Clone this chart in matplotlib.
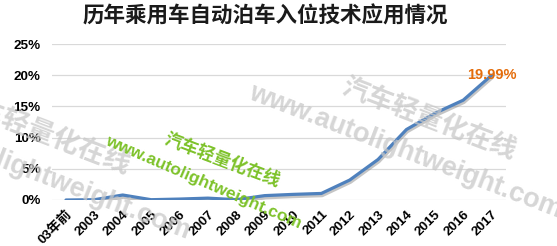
import matplotlib
matplotlib.use("Agg")
import matplotlib.pyplot as plt
import matplotlib.patheffects as pe
import matplotlib.transforms as mtransforms

plt.rcParams['font.family'] = ['Liberation Sans', 'Noto Sans CJK SC', 'DejaVu Sans']

categories = ['03年前', '2003', '2004', '2005', '2006', '2007', '2008', '2009',
              '2010', '2011', '2012', '2013', '2014', '2015', '2016', '2017']
values = [0.0, 0.05, 0.8, 0.05, 0.15, 0.3, 0.05, 0.7,
          0.9, 1.05, 3.2, 6.5, 11.3, 13.9, 16.0, 19.99]
yticks = [0, 5, 10, 15, 20, 25]
ytick_labels = ['0%', '5%', '10%', '15%', '20%', '25%']
title = '历年乘用车自动泊车入位技术应用情况'
end_label = '19.99%'
wm_url = 'www.autolightweight.com'
wm_cn = '汽车轻量化在线'

W, H = 557, 246
fig = plt.figure(figsize=(W / 100, H / 100), dpi=100)
ax = fig.add_axes([0.093, 0.187, 0.815, 0.634])

x = list(range(len(categories)))
ax.plot(x, values, color='#4f81bd', lw=2.3, solid_capstyle='round', zorder=3,
        path_effects=[pe.SimpleLineShadow(offset=(0.6, -1.6), shadow_color='#808080', alpha=0.45),
                      pe.Normal()])
ax.set_xlim(-0.5, len(categories) - 0.5)
ax.set_ylim(0, 25)
ax.set_yticks(yticks)
ax.set_yticklabels(ytick_labels)
ax.set_xticks(x)
ax.set_xticklabels(categories, rotation=45, ha='right', va='top', rotation_mode='anchor')
shift = mtransforms.ScaledTranslation(3 / 100, 0, fig.dpi_scale_trans)
for lab in ax.get_xticklabels():
    lab.set_transform(lab.get_transform() + shift)
for lab in ax.get_xticklabels() + ax.get_yticklabels():
    lab.set_fontweight('bold')
    lab.set_fontsize(9.7)
    lab.set_family(['Liberation Sans', 'Noto Sans CJK SC'])
ax.tick_params(length=0)
ax.tick_params(axis='x', pad=6)
ax.tick_params(axis='y', pad=8)
ax.grid(axis='y', color='#d9d9d9', lw=0.9)
ax.set_axisbelow(True)
for s in ax.spines.values():
    s.set_visible(False)

ax.text(x[-1], values[-1], end_label, color='#e46c0a', fontweight='bold', fontsize=10.5,
        ha='center', va='center', zorder=5)

fig.text(0.476, 0.935, title, ha='center', va='center', fontsize=15.5, fontweight='bold',
         family=['Noto Sans CJK SC'], color='#1a1a1a')

# grey watermarks
grey = dict(color='#c8c8c8', alpha=0.75, fontweight='bold', rotation=-21,
            rotation_mode='anchor', ha='left', va='center', zorder=1,
            family=['Liberation Sans', 'Noto Sans CJK SC'])
fig.text(250 / W, 1 - 92 / H, wm_url, fontsize=19.5, **grey)
fig.text(343 / W, 1 - 86 / H, wm_cn, fontsize=19, **grey)
fig.text(-122 / W, 1 - 113 / H, wm_url, fontsize=19.5, **grey)
fig.text(-48 / W, 1 - 100 / H, wm_cn, fontsize=19.5, **grey)

# green watermarks
green = dict(color='#7dc22a', fontweight='bold', rotation_mode='anchor',
             ha='left', va='center', zorder=6, family=['Liberation Sans', 'Noto Sans CJK SC'])
fig.text(106 / W, 1 - 140 / H, wm_url, fontsize=12.4, rotation=-23.4, **green)
fig.text(165 / W, 1 - 138 / H, wm_cn, fontsize=12.6, rotation=-20.7, **green)

fig.savefig('out.png', dpi=100)
